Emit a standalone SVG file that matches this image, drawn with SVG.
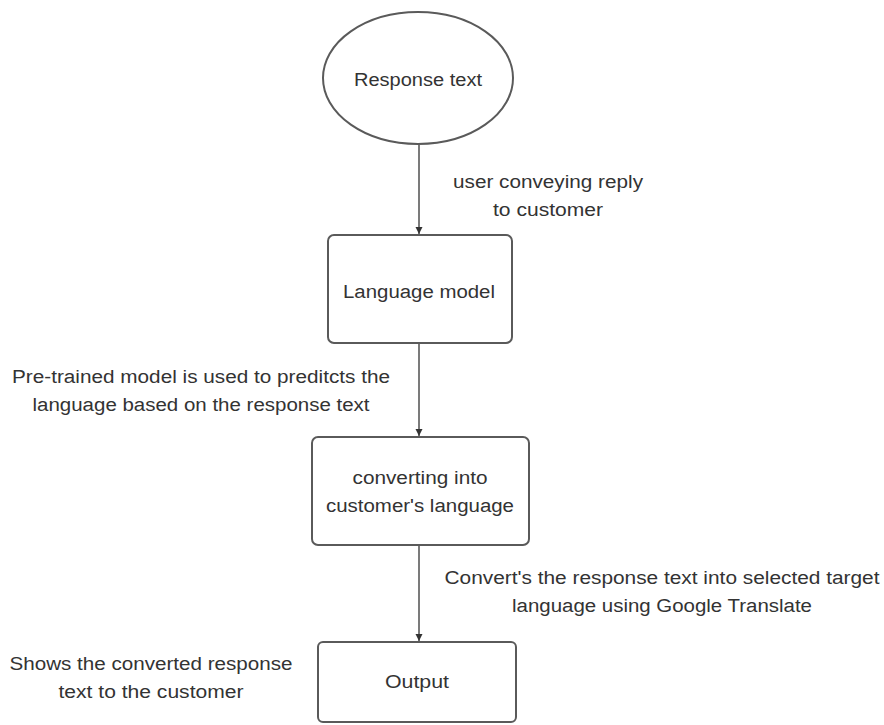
<svg xmlns="http://www.w3.org/2000/svg" width="884" height="725" viewBox="0 0 884 725">
<defs>
<style>
.n{fill:#fff;stroke:#5a5a5a;stroke-width:2}
.t{font-family:"Liberation Sans",Arial,sans-serif;font-size:18px;fill:#333;text-anchor:middle}
.e{stroke:#5a5a5a;stroke-width:1.6;fill:none}
</style>
<marker id="ah" viewBox="0 0 10 10" refX="10" refY="5" markerWidth="7" markerHeight="8" markerUnits="userSpaceOnUse" orient="auto"><path d="M0,0L10,5L0,10z" fill="#333"/></marker>
</defs>
<rect width="884" height="725" fill="#fff"/>
<g id="connectors">
<line class="e" x1="419" y1="145" x2="419" y2="234" marker-end="url(#ah)"/>
<line class="e" x1="419" y1="343" x2="419" y2="436" marker-end="url(#ah)"/>
<line class="e" x1="419" y1="545" x2="419" y2="641" marker-end="url(#ah)"/>
<text class="t" x="548" y="188" textLength="190" lengthAdjust="spacingAndGlyphs">user conveying reply</text>
<text class="t" x="548" y="216" textLength="110" lengthAdjust="spacingAndGlyphs">to customer</text>
<text class="t" x="201" y="383" textLength="378" lengthAdjust="spacingAndGlyphs">Pre-trained model is used to preditcts the</text>
<text class="t" x="201" y="411" textLength="337" lengthAdjust="spacingAndGlyphs">language based on the response text</text>
<text class="t" x="662" y="584" textLength="435" lengthAdjust="spacingAndGlyphs">Convert's the response text into selected target</text>
<text class="t" x="662" y="612" textLength="300" lengthAdjust="spacingAndGlyphs">language using Google Translate</text>
<text class="t" x="151" y="670" textLength="283" lengthAdjust="spacingAndGlyphs">Shows the converted response</text>
<text class="t" x="151" y="698" textLength="185" lengthAdjust="spacingAndGlyphs">text to the customer</text>
</g>
<g id="response">
<ellipse class="n" cx="418" cy="78" rx="95" ry="66"/>
<text class="t" x="418" y="86" textLength="128" lengthAdjust="spacingAndGlyphs">Response text</text>
</g>
<g id="language-model">
<rect class="n" x="328" y="235" width="184" height="108" rx="6"/>
<text class="t" x="419" y="298" textLength="152" lengthAdjust="spacingAndGlyphs">Language model</text>
</g>
<g id="converting">
<rect class="n" x="312" y="437" width="217" height="108" rx="6"/>
<text class="t" x="420" y="484" textLength="135" lengthAdjust="spacingAndGlyphs">converting into</text>
<text class="t" x="420" y="512" textLength="188" lengthAdjust="spacingAndGlyphs">customer's language</text>
</g>
<g id="output">
<rect class="n" x="318" y="642" width="198" height="80" rx="5"/>
<text class="t" x="417" y="688" textLength="64" lengthAdjust="spacingAndGlyphs">Output</text>
</g>
</svg>
